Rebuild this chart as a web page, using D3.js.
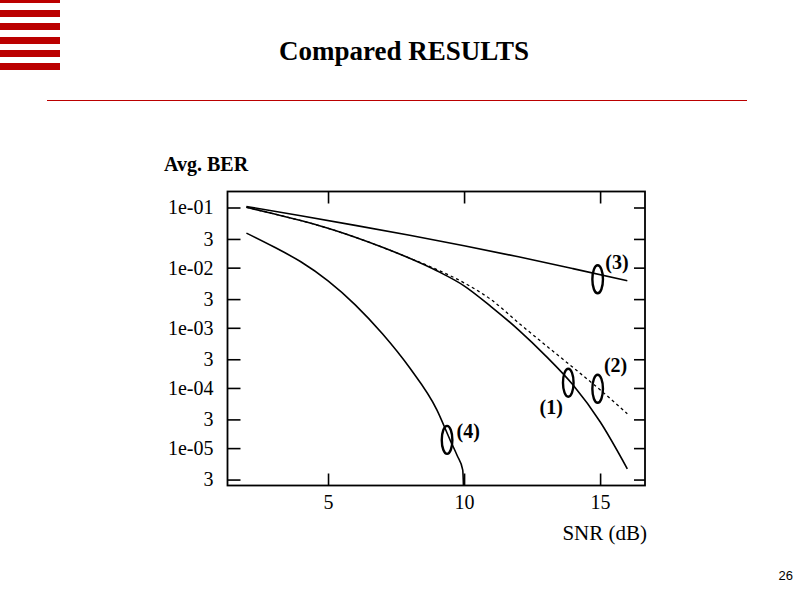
<!DOCTYPE html>
<html>
<head>
<meta charset="utf-8">
<script src="https://cdn.jsdelivr.net/npm/d3@7/dist/d3.min.js"></script>
<style>
  html, body { margin: 0; padding: 0; background: #fff; }
  svg { display: block; }
  .serif { font-family: "Liberation Serif", "Times New Roman", serif; }
</style>
</head>
<body>
<svg id="chart" width="800" height="600"></svg>
<script>
// SNR grid (dB) for the BER curves
const snr = [2, 3, 4, 5, 6, 7, 8, 9, 10, 11, 12, 13, 14, 15, 16];

// (1) solid curve
const ber1 = [0.1008, 0.0786, 0.0606, 0.0451, 0.0320, 0.0218, 0.01430, 0.00886,
              0.00499, 0.002234, 9.26e-4, 3.42e-4, 1.128e-4, 2.74e-5, 4.53e-6];
// (2) dashed curve
const ber2 = [0.1008, 0.0786, 0.0606, 0.0451, 0.0320, 0.0218, 0.01441, 0.00928,
              0.00560, 0.00292, 0.001210, 5.12e-4, 2.20e-4, 9.31e-5, 3.72e-5];
// (3) upper curve
const snr3 = [2, 4, 6, 8, 10, 12, 14, 16];
const ber3 = [0.104, 0.0727, 0.0504, 0.0345, 0.0231, 0.01515, 0.00964, 0.00604];
// (4) lower curve, falls off the bottom of the axes at 10 dB
const snr4 = [2, 3, 4, 5, 6, 7, 8, 9, 9.5, 9.75, 9.95, 10];
const ber4 = [0.0375, 0.0222, 0.01251, 0.00604, 0.002412, 7.95e-4, 2.16e-4,
              4.33e-5, 1.322e-5, 7.45e-6, 4.36e-6, 1e-6];

// axis ticks
const xTicks = [5, 10, 15];
const yTicks = [1e-1, 3e-2, 1e-2, 3e-3, 1e-3, 3e-4, 1e-4, 3e-5, 1e-5, 3e-6];
const yTickLabels = ["1e-01", "3", "1e-02", "3", "1e-03", "3", "1e-04", "3", "1e-05", "3"];

// curve markers: ellipse centres and their labels (data coordinates)
const markerNames = ["(1)", "(2)", "(3)", "(4)"];
const markerX = [13.83, 14.91, 14.91, 9.375];
const markerY = [1.22e-4, 9.68e-5, 6.4e-3, 1.37e-5];
const labelX = [13.2, 15.57, 15.62, 10.15];
const labelY = [4.86e-5, 2.43e-4, 0.0125, 1.94e-5];

const svg = d3.select("#chart");
const red = "#bb0000";

// header stripes
const stripeTops = [-4, 10, 23, 37, 50, 63];
svg.append("g").selectAll("rect").data(stripeTops).join("rect")
  .attr("x", 0).attr("y", d => d).attr("width", 60).attr("height", 7)
  .attr("fill", red);

svg.append("text").attr("class", "serif")
  .attr("x", 404).attr("y", 60).attr("text-anchor", "middle")
  .attr("font-size", 27).attr("font-weight", "bold").text("Compared RESULTS");

svg.append("line").attr("x1", 47).attr("x2", 747).attr("y1", 100.5).attr("y2", 100.5)
  .attr("stroke", red).attr("stroke-width", 1);

svg.append("text").attr("x", 793).attr("y", 580).attr("text-anchor", "end")
  .attr("font-family", "Liberation Sans, Arial, sans-serif").attr("font-size", 13)
  .text("26");

// plot area
const L = 227.5, T = 191.5, W = 417.5, H = 294;
const x = d3.scaleLinear().domain([1.305, 16.65]).range([L, L + W]);
const y = d3.scaleLog().domain([2.39e-6, 0.1845]).range([T + H, T]);

const clip = svg.append("clipPath").attr("id", "plotclip");
clip.append("rect").attr("x", L).attr("y", T).attr("width", W).attr("height", H);

const axisStyle = g => {
  g.select(".domain").remove();
  g.selectAll(".tick line").attr("stroke", "#000").attr("stroke-width", 1.6);
  g.selectAll(".tick text").attr("class", "serif").attr("fill", "#000");
};

// left axis with labels
svg.append("g").attr("transform", `translate(${L},0)`)
  .call(d3.axisLeft(y).tickValues(yTicks).tickSize(-13).tickPadding(14)
    .tickFormat((d, i) => yTickLabels[i]))
  .call(axisStyle)
  .call(g => g.selectAll(".tick text").attr("font-size", 20));
// right axis ticks
svg.append("g").attr("transform", `translate(${L + W},0)`)
  .call(d3.axisRight(y).tickValues(yTicks).tickSize(-11).tickFormat(""))
  .call(axisStyle);
// bottom axis with labels
svg.append("g").attr("transform", `translate(0,${T + H})`)
  .call(d3.axisBottom(x).tickValues(xTicks).tickSize(-12).tickPadding(9)
    .tickFormat(d3.format("d")))
  .call(axisStyle)
  .call(g => g.selectAll(".tick text").attr("font-size", 20));
// top axis ticks
svg.append("g").attr("transform", `translate(0,${T})`)
  .call(d3.axisTop(x).tickValues(xTicks).tickSize(-12).tickFormat(""))
  .call(axisStyle);

// frame
svg.append("rect").attr("x", L).attr("y", T).attr("width", W).attr("height", H)
  .attr("fill", "none").attr("stroke", "#000").attr("stroke-width", 1.8);

svg.append("text").attr("class", "serif").attr("x", 164).attr("y", 171)
  .attr("font-size", 20).attr("font-weight", "bold").text("Avg. BER");
svg.append("text").attr("class", "serif").attr("x", 647).attr("y", 540)
  .attr("text-anchor", "end").attr("font-size", 21).text("SNR (dB)");

// curves
const line = d3.line().curve(d3.curveMonotoneX).x(d => x(d[0])).y(d => y(d[1]));
const curves = svg.append("g").attr("clip-path", "url(#plotclip)")
  .attr("fill", "none").attr("stroke", "#000");

curves.append("path").datum(d3.zip(snr, ber2)).attr("d", line)
  .attr("stroke-width", 1.3).attr("stroke-dasharray", "3,3");
curves.append("path").datum(d3.zip(snr, ber1)).attr("d", line).attr("stroke-width", 1.6);
curves.append("path").datum(d3.zip(snr3, ber3)).attr("d", line).attr("stroke-width", 1.6);
curves.append("path").datum(d3.zip(snr4, ber4)).attr("d", line).attr("stroke-width", 1.6);

// markers
const marks = d3.range(markerNames.length);
svg.append("g").selectAll("ellipse").data(marks).join("ellipse")
  .attr("cx", i => x(markerX[i])).attr("cy", i => y(markerY[i]))
  .attr("rx", 5.3).attr("ry", 14)
  .attr("fill", "none").attr("stroke", "#000").attr("stroke-width", 2.4);
svg.append("g").selectAll("text").data(marks).join("text")
  .attr("class", "serif")
  .attr("x", i => x(labelX[i])).attr("y", i => y(labelY[i]))
  .attr("dy", "0.35em").attr("text-anchor", "middle")
  .attr("font-size", 20).attr("font-weight", "bold")
  .text(i => markerNames[i]);
</script>
</body>
</html>
